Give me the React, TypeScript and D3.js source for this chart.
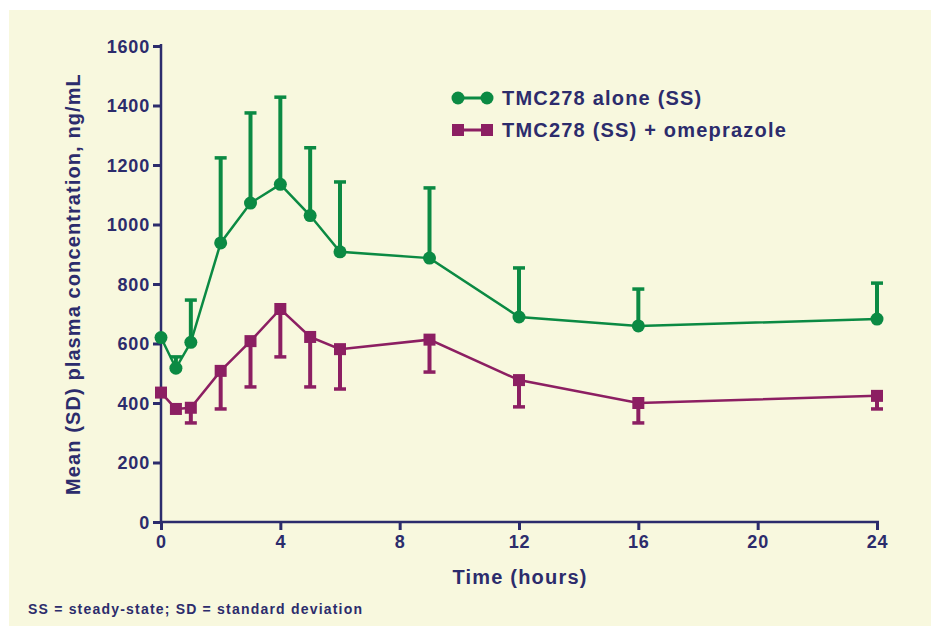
import React, { useEffect, useRef } from 'react';
import * as d3 from 'd3';

const times = [0, 0.5, 1, 2, 3, 4, 5, 6, 9, 12, 16, 24];
const aloneMean = [620, 517, 604, 938, 1072, 1135, 1030, 908, 887, 689, 659, 682];
const aloneUpper = [620, 555, 746, 1224, 1375, 1428, 1258, 1143, 1123, 854, 783, 803];
const omeMean = [435, 380, 384, 508, 608, 716, 622, 581, 613, 477, 400, 424];
const omeLower = [435, 380, 333, 380, 454, 555, 454, 447, 504, 387, 333, 380];
const xTicks = [0, 4, 8, 12, 16, 20, 24];
const yTicks = [0, 200, 400, 600, 800, 1000, 1200, 1400, 1600];
const seriesNames = ['TMC278 alone (SS)', 'TMC278 (SS) + omeprazole'];

const GREEN = '#0b8a43';
const PURPLE = '#8c1f62';
const NAVY = '#2c2c6c';
const FONT = '"Liberation Sans", Arial, sans-serif';

const App = () => {
  const ref = useRef(null);

  useEffect(() => {
    const width = 931;
    const height = 627;
    const svg = d3.select(ref.current);
    svg.selectAll('*').remove();

    svg.append('rect').attr('width', width).attr('height', height).attr('fill', '#ffffff');
    svg.append('rect').attr('x', 9).attr('y', 10).attr('width', width - 9).attr('height', 616).attr('fill', '#f8f8de');

    const x = d3.scaleLinear().domain([0, 24]).range([161, 877]);
    const y = d3.scaleLinear().domain([0, 1600]).range([522, 46]);

    const txt = (sel, size, spacing) => sel.attr('fill', NAVY).attr('font-family', FONT)
      .attr('font-weight', 'bold').attr('font-size', size).attr('letter-spacing', spacing);

    // axes
    const yAxis = svg.append('g').attr('transform', 'translate(161,0)')
      .call(d3.axisLeft(y).tickValues(yTicks).tickSize(8).tickPadding(3).tickFormat(d3.format('d')));
    yAxis.select('.domain').remove();
    yAxis.selectAll('line').attr('stroke', NAVY).attr('stroke-width', 3);
    txt(yAxis.selectAll('text'), 18, 0.8).attr('dy', '0.36em');

    const xAxis = svg.append('g').attr('transform', 'translate(0,522)')
      .call(d3.axisBottom(x).tickValues(xTicks).tickSize(8).tickPadding(5).tickFormat(d3.format('d')));
    xAxis.select('.domain').remove();
    xAxis.selectAll('line').attr('stroke', NAVY).attr('stroke-width', 3);
    txt(xAxis.selectAll('text'), 18, 0.8);

    svg.append('line').attr('x1', 161).attr('x2', 161).attr('y1', 44).attr('y2', 524)
      .attr('stroke', NAVY).attr('stroke-width', 2.5);
    svg.append('line').attr('x1', 160).attr('x2', 879).attr('y1', 522).attr('y2', 522)
      .attr('stroke', NAVY).attr('stroke-width', 2.5);

    // series
    const line = d3.line().x((d) => x(d[0])).y((d) => y(d[1]));

    const greenG = svg.append('g');
    times.forEach((t, i) => {
      greenG.append('line').attr('x1', x(t)).attr('x2', x(t)).attr('y1', y(aloneMean[i])).attr('y2', y(aloneUpper[i]))
        .attr('stroke', GREEN).attr('stroke-width', 4);
      if (aloneUpper[i] > aloneMean[i]) {
        greenG.append('line').attr('x1', x(t) - 6).attr('x2', x(t) + 6).attr('y1', y(aloneUpper[i])).attr('y2', y(aloneUpper[i]))
          .attr('stroke', GREEN).attr('stroke-width', 3.5);
      }
    });
    greenG.append('path').datum(times.map((t, i) => [t, aloneMean[i]])).attr('d', line)
      .attr('fill', 'none').attr('stroke', GREEN).attr('stroke-width', 2.5);
    greenG.selectAll('circle').data(times).enter().append('circle')
      .attr('cx', (t) => x(t)).attr('cy', (t, i) => y(aloneMean[i])).attr('r', 6.5).attr('fill', GREEN);

    const purpleG = svg.append('g');
    times.forEach((t, i) => {
      purpleG.append('line').attr('x1', x(t)).attr('x2', x(t)).attr('y1', y(omeMean[i])).attr('y2', y(omeLower[i]))
        .attr('stroke', PURPLE).attr('stroke-width', 4);
      if (omeLower[i] < omeMean[i]) {
        purpleG.append('line').attr('x1', x(t) - 6).attr('x2', x(t) + 6).attr('y1', y(omeLower[i])).attr('y2', y(omeLower[i]))
          .attr('stroke', PURPLE).attr('stroke-width', 3.5);
      }
    });
    purpleG.append('path').datum(times.map((t, i) => [t, omeMean[i]])).attr('d', line)
      .attr('fill', 'none').attr('stroke', PURPLE).attr('stroke-width', 2.5);
    purpleG.selectAll('rect').data(times).enter().append('rect')
      .attr('x', (t) => x(t) - 6).attr('y', (t, i) => y(omeMean[i]) - 6).attr('width', 12).attr('height', 12)
      .attr('fill', PURPLE);

    // legend
    const legend = svg.append('g');
    [GREEN, PURPLE].forEach((c, i) => {
      const ly = 98 + i * 32;
      legend.append('line').attr('x1', 458).attr('x2', 487).attr('y1', ly).attr('y2', ly)
        .attr('stroke', c).attr('stroke-width', 3);
      if (i === 0) {
        legend.append('circle').attr('cx', 458).attr('cy', ly).attr('r', 6.5).attr('fill', c);
        legend.append('circle').attr('cx', 487).attr('cy', ly).attr('r', 6.5).attr('fill', c);
      } else {
        legend.append('rect').attr('x', 452).attr('y', ly - 6).attr('width', 12).attr('height', 12).attr('fill', c);
        legend.append('rect').attr('x', 481).attr('y', ly - 6).attr('width', 12).attr('height', 12).attr('fill', c);
      }
      txt(legend.append('text').attr('x', 502).attr('y', ly + 7).text(seriesNames[i]), 20, 1.2);
    });

    // titles
    txt(svg.append('text').attr('x', 520).attr('y', 584).attr('text-anchor', 'middle').text('Time (hours)'), 20, 1.2);
    txt(svg.append('text').attr('transform', 'translate(80,284) rotate(-90)').attr('text-anchor', 'middle')
      .text('Mean (SD) plasma concentration, ng/mL'), 20, 1.1);
    txt(svg.append('text').attr('x', 28).attr('y', 614).text('SS = steady-state; SD = standard deviation'), 14, 1.2);
  }, []);

  return (
    <svg ref={ref} width={931} height={627} style={{ position: 'absolute', left: 0, top: 0 }}></svg>
  );
};

export default App;
